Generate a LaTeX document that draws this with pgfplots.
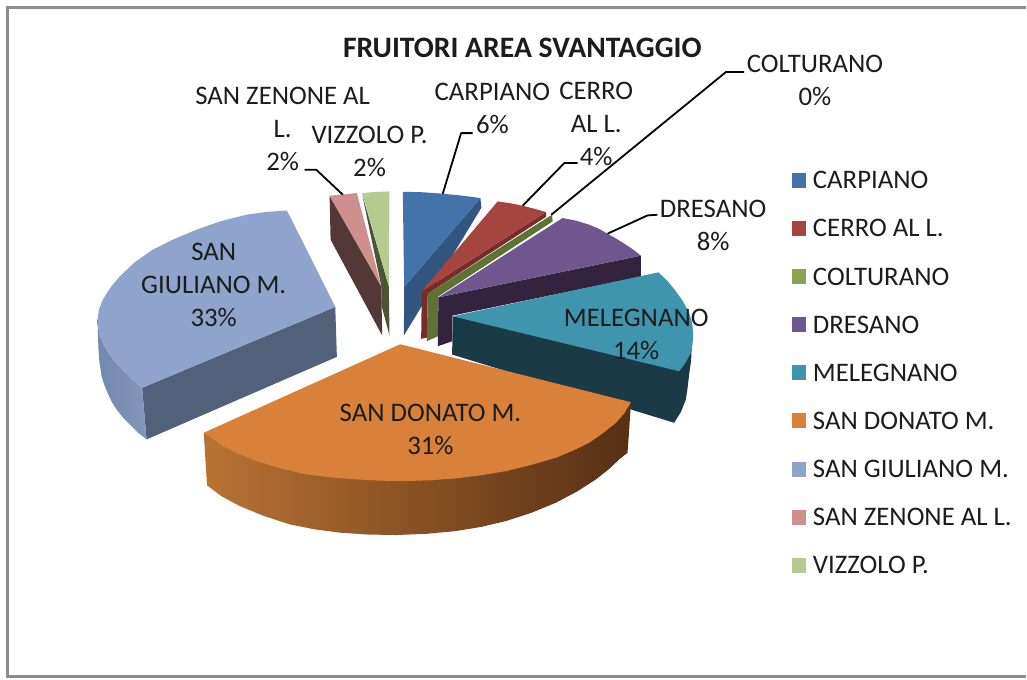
\documentclass[border=0pt]{standalone}
\usepackage{pgfplots}
\pgfplotsset{compat=1.18}
\usepackage{fontspec}
\setmainfont{Carlito}
\definecolor{carT}{HTML}{4373A8}\definecolor{carS}{HTML}{315680}
\definecolor{cerT}{HTML}{A6443F}\definecolor{cerS}{HTML}{772C2A}
\definecolor{colT}{HTML}{8BA44F}\definecolor{colS}{HTML}{5D7233}
\definecolor{dreT}{HTML}{70568F}\definecolor{dreS}{HTML}{33233F}
\definecolor{melT}{HTML}{3F95AE}\definecolor{melS}{HTML}{1A3A46}
\definecolor{donT}{HTML}{D9813A}\definecolor{donL}{HTML}{B87333}\definecolor{donM}{HTML}{7F4D24}\definecolor{donR}{HTML}{572F14}
\definecolor{giuT}{HTML}{8FA4CD}\definecolor{giuS}{HTML}{526079}\definecolor{giuL}{HTML}{7388AB}\definecolor{giuR}{HTML}{8197BB}
\definecolor{zenT}{HTML}{CE8F8D}\definecolor{zenS}{HTML}{533838}
\definecolor{vizT}{HTML}{B6CB90}\definecolor{vizS}{HTML}{4B5536}
\definecolor{bord}{HTML}{8C8C8C}\definecolor{txt}{HTML}{1C1C1C}
\pgfplotsset{
  face/.style={forget plot,draw=none,fill=#1,mark=none},
  lead/.style={forget plot,black,line width=1.8pt,mark=none,line join=round},
  swatch/.style={legend image code/.code={\path[draw=none,fill=none] (0pt,-3.5pt) rectangle (21.5pt,11.5pt);\fill[#1,draw=none] (0pt,-3.5pt) rectangle (15pt,11.5pt);}},
}
\tikzset{
  lab/.style={align=center,text=txt,font=\fontsize{26.8}{33}\selectfont,inner sep=0pt},
}
\begin{document}
\begin{tikzpicture}
\begin{axis}[
  hide axis,clip=false,scale only axis,width=1027pt,height=680pt,
  xmin=0,xmax=1027,ymin=0,ymax=680,y dir=reverse,
  legend cell align=left,
  legend style={draw=none,fill=none,at={(axis cs:792.5,173)},anchor=north west,inner sep=0pt,outer sep=0pt,
    font=\fontsize{26.8}{30}\selectfont,text=txt,row sep=27.2pt,
    nodes={text height=14pt,text depth=5pt,inner sep=0pt}},
]
% page and frame
\addplot[forget plot,draw=none,fill=white] coordinates {(0,0)(1027,0)(1027,680)(0,680)} --cycle;
\addplot[forget plot,bord,line width=2.6pt,mark=none] coordinates {(1027,7.3)(7.5,7.3)(7.5,677.3)(1027,677.3)};
% SAN ZENONE
\addplot[face=zenS] coordinates {(330,196)(381.7,286.7)(382.7,336)(331,240)} --cycle;
\addplot[face=zenT] coordinates {(330,196)(343.3,194.7)(357.3,193.3)(381.7,286.7)} --cycle;
% VIZZOLO
\addplot[face=vizS] coordinates {(362.7,195)(389.3,286.7)(390,336)(382,306)(381.7,286)} --cycle;
\addplot[face=vizT] coordinates {(362.7,193.3)(376,192.2)(390,191.7)(389.3,286.7)} --cycle;
% CARPIANO
\addplot[face=carS] coordinates {(404.7,287.3)(481,198.3)(482,208)(404.4,336)} --cycle;
\addplot[face=carT] coordinates {(403.3,192)(423,192.5)(443.3,194)(462,195.8)(481,198.3)(404.7,287.3)} --cycle;
% CERRO
\addplot[face=cerS] coordinates {(422.3,291.7)(546.7,212.3)(546.9,217)(428.3,294)(427.3,338)(421.7,339.3)} --cycle;
\addplot[face=cerT] coordinates {(498.3,201.7)(511,203.5)(523.3,206)(535,209)(546.7,212.3)(422.3,291.7)} --cycle;
% COLTURANO
\addplot[face=colS] coordinates {(428.3,294)(552.7,215)(553.3,221.7)(439,296.7)(438.3,336.7)(427.3,341.7)} --cycle;
% DRESANO
\addplot[face=dreS] coordinates {(439,297.7)(641.7,256)(641.7,277)(453,316)(452.7,341.7)(438.3,346.7)} --cycle;
\addplot[face=dreT] coordinates {(439,297.7)(563.3,218.3)(577,221)(590,225)(599.5,229)(608.3,234)(618,239.5)(626.7,245)(634.5,250.3)(641.7,256)} --cycle;
% MELEGNANO
\addplot[face=melS] coordinates {(453.3,316.7)(692.7,345)(692,361)(690,375)(688.5,388)(686.7,400)(682,412)(675,423.3)(452.7,355)} --cycle;
\addplot[face=melT] coordinates {(453.3,316.7)(659.3,272.7)(668.5,281.5)(676.7,291.7)(684,302)(690,313.3)(693,323)(694,333.3)(693.5,344)(691.7,353.3)(686.5,363)(680,371.7)} --cycle;
% SAN GIULIANO
\addplot[face=giuS] coordinates {(142.3,388.3)(335.7,307.3)(337.3,357.3)(146.7,440)} --cycle;
\addplot[forget plot,draw=none,mark=none,left color=giuL,right color=giuR] coordinates {(97.7,320)(100,336.7)(105.5,348.5)(113,360)(126,374)(142.3,388.3)(146.7,440)(138,433)(130,425)(123,418)(116.7,410)(112,402.5)(108,394)(104.5,385.5)(101.7,376.7)(99.5,362)(98.5,348)} --cycle;
\addplot[face=giuT] coordinates {(287.3,210.7)(266,212.3)(246.7,215)(221,221.5)(196.7,230)(174,239.5)(153,250)(135,262.5)(120,276.7)(110.5,288)(103,300)(99,310)(97.7,320)(98.3,329)(100,336.7)(105.5,348.5)(113,360)(126,374)(142.3,388.3)(335.7,307.3)} --cycle;
% SAN DONATO
\addplot[forget plot,draw=none,mark=none,left color=donL,middle color=donM,right color=donR] coordinates {(204,433.3)(631.7,402.7)(630,430)(628.3,453.3)(620,460)(610,469.5)(596.7,480)(578,492)(556.7,503.3)(532,513.5)(506.7,521.7)(482,527.5)(456.7,531.7)(427,534.5)(396.7,535.7)(368,535.2)(340,533.3)(315,530)(290,525)(264,516.5)(240,506.7)(222,497)(207.3,486)} --cycle;
\addplot[face=donT] coordinates {(400.7,344.7)(631.7,402.7)(625,414)(616.7,423.3)(604,433.5)(590,443.3)(574,451)(556.7,458.3)(532,465.5)(506.7,471.7)(482,475.8)(456.7,479)(432,480.8)(406.7,481.7)(382,481.3)(356.7,480)(332,478)(306.7,475)(281,469)(256.7,461.7)(239,454.5)(223.3,446.7)(204,433.3)} --cycle;
% leader lines
\addplot[lead] coordinates {(305,170)(316.7,170)(343.3,195)};
\addplot[lead] coordinates {(473.3,133.3)(461.7,133.3)(443.3,194)};
\addplot[lead] coordinates {(578.3,163.3)(565,163.3)(523.3,206)};
\addplot[lead] coordinates {(745,72)(727,72)(552,215)};
\addplot[lead] coordinates {(658.3,215)(648.3,215.7)(608.3,234)};
% legend
\addlegendimage{swatch=carT}\addlegendentry{CARPIANO}
\addlegendimage{swatch=cerT}\addlegendentry{CERRO AL L.}
\addlegendimage{swatch=colT}\addlegendentry{COLTURANO}
\addlegendimage{swatch=dreT}\addlegendentry{DRESANO}
\addlegendimage{swatch=melT}\addlegendentry{MELEGNANO}
\addlegendimage{swatch=donT}\addlegendentry{SAN DONATO M.}
\addlegendimage{swatch=giuT}\addlegendentry{SAN GIULIANO M.}
\addlegendimage{swatch=zenT}\addlegendentry{SAN ZENONE AL L.}
\addlegendimage{swatch=vizT}\addlegendentry{VIZZOLO P.}
% labels
\node[inner sep=0pt,font=\fontsize{29.7}{32}\selectfont\bfseries,text=txt] at (axis cs:523,48) {FRUITORI AREA SVANTAGGIO};
\node[lab] at (axis cs:283,129) {SAN ZENONE AL\\L.\\2\%};
\node[lab] at (axis cs:370,152) {VIZZOLO P.\\2\%};
\node[lab] at (axis cs:493,108.5) {CARPIANO\\6\%};
\node[lab] at (axis cs:597,124.5) {CERRO\\AL L.\\4\%};
\node[lab] at (axis cs:816,80.5) {COLTURANO\\0\%};
\node[lab] at (axis cs:714,226) {DRESANO\\8\%};
\node[lab] at (axis cs:637,335) {MELEGNANO\\14\%};
\node[lab] at (axis cs:431,430) {SAN DONATO M.\\31\%};
\node[lab] at (axis cs:214,285.5) {SAN\\GIULIANO M.\\33\%};
\end{axis}
\end{tikzpicture}
\end{document}
